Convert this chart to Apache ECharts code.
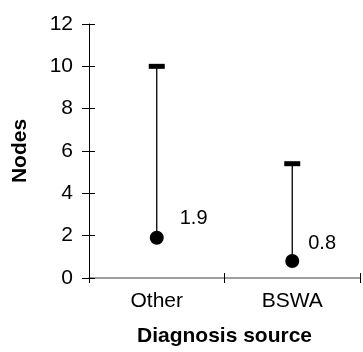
<!DOCTYPE html>
<html>
<head>
<meta charset="utf-8">
<script src="https://cdn.jsdelivr.net/npm/echarts@6/dist/echarts.min.js"></script>
<style>html,body{margin:0;padding:0;background:#fff}#c{width:363px;height:352px}</style>
</head>
<body>
<div id="c"></div>
<script>
var categories = ['Other', 'BSWA'];
var meanValues = [1.9, 0.8];
var upperValues = [10, 5.4];
var yTicks = [0, 2, 4, 6, 8, 10, 12];
var labelOffsets = [[16, -19], [9, -18]];

var FONT = 'Liberation Sans, Arial, sans-serif';
var chart = echarts.init(document.getElementById('c'));

var errData = categories.map(function (c, i) { return [i, meanValues[i], upperValues[i]]; });
var pointData = categories.map(function (c, i) {
  return {
    value: [i, meanValues[i]],
    label: { offset: labelOffsets[i] }
  };
});

chart.setOption({
  animation: false,
  backgroundColor: '#fff',
  grid: { left: 89, right: 3, top: 24, bottom: 69 },
  xAxis: [{
    type: 'category',
    data: categories,
    position: 'bottom',
    axisLine: { lineStyle: { color: '#808080', width: 1.5 } },
    axisTick: { show: true, length: 5, lineStyle: { color: '#000', width: 1 } },
    axisLabel: { color: '#000', fontSize: 21, fontFamily: FONT, margin: 13 },
    name: 'Diagnosis source',
    nameLocation: 'middle',
    nameGap: 48,
    nameTextStyle: { color: '#000', fontSize: 21, fontWeight: 'bold', fontFamily: FONT }
  }, {
    type: 'category',
    data: categories,
    position: 'bottom',
    axisLine: { show: false },
    axisTick: { show: true, inside: true, length: 5, lineStyle: { color: '#000', width: 1 } },
    axisLabel: { show: false }
  }],
  yAxis: [{
    type: 'value',
    min: 0, max: 12, interval: 2,
    position: 'left',
    splitLine: { show: false },
    axisLine: { show: true, lineStyle: { color: '#000', width: 1 } },
    axisTick: { show: true, length: 7, lineStyle: { color: '#000', width: 1 } },
    axisLabel: { color: '#000', fontSize: 21, fontFamily: FONT, margin: 16,
      formatter: function (v) { return yTicks.indexOf(v) >= 0 ? String(v) : ''; } },
    name: 'Nodes',
    nameLocation: 'middle',
    nameGap: 58,
    nameTextStyle: { color: '#000', fontSize: 21, fontWeight: 'bold', fontFamily: FONT }
  }, {
    type: 'value',
    min: 0, max: 12, interval: 2,
    position: 'left',
    splitLine: { show: false },
    axisLine: { show: false },
    axisTick: { show: true, inside: true, length: 6, lineStyle: { color: '#000', width: 1 } },
    axisLabel: { show: false }
  }],
  series: [{
    type: 'custom',
    xAxisIndex: 0, yAxisIndex: 0,
    data: errData,
    renderItem: function (params, api) {
      var p0 = api.coord([api.value(0), api.value(1)]);
      var p1 = api.coord([api.value(0), api.value(2)]);
      return {
        type: 'group',
        children: [{
          type: 'line',
          shape: { x1: p0[0], y1: p0[1], x2: p1[0], y2: p1[1] },
          style: { stroke: '#000', lineWidth: 1.3 }
        }, {
          type: 'rect',
          shape: { x: p1[0] - 8, y: p1[1] - 2.5, width: 16, height: 5 },
          style: { fill: '#000' }
        }]
      };
    },
    z: 2
  }, {
    type: 'scatter',
    xAxisIndex: 0, yAxisIndex: 0,
    data: pointData,
    symbol: 'circle',
    symbolSize: 14,
    itemStyle: { color: '#000', opacity: 1 },
    label: {
      show: true,
      position: 'right',
      distance: 0,
      color: '#000',
      fontSize: 20,
      fontFamily: FONT,
      formatter: function (p) { return String(p.value[1]); }
    },
    z: 3
  }]
});
</script>
</body>
</html>
